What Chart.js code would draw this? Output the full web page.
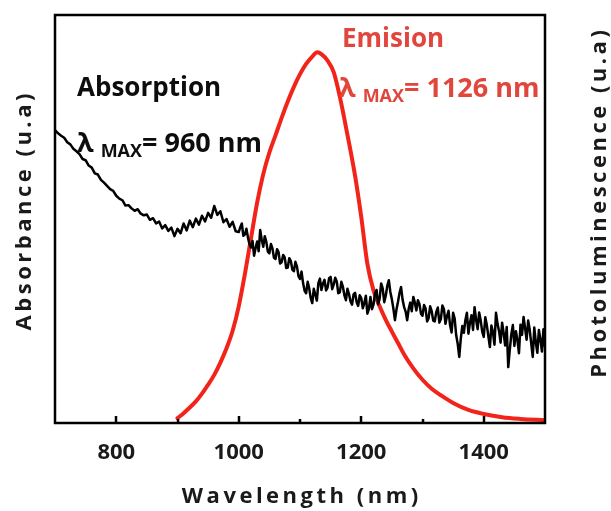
<!DOCTYPE html>
<html>
<head>
<meta charset="utf-8">
<script src="https://cdn.jsdelivr.net/npm/chart.js@4.4.1/dist/chart.umd.min.js"></script>
<style>
  html, body { margin: 0; padding: 0; background: #fff; }
  #wrap { width: 611px; height: 511px; }
</style>
</head>
<body>
<div id="wrap"><canvas id="c" width="611" height="511"></canvas></div>
<script>
// ---- Data ----
const xTicks = [800, 1000, 1200, 1400];
const xMinorTicks = [900, 1100, 1300];

// absorption, 700-995 nm (5 nm grid)
const absWavelengthA = [
  700,705,710,715,720,725,730,735,740,745,750,755,760,765,770,775,780,785,790,795,
  800,805,810,815,820,825,830,835,840,845,850,855,860,865,870,875,880,885,890,895,
  900,905,910,915,920,925,930,935,940,945,950,955,960,965,970,975,980,985,990,995
];
const absorbanceA = [
  71.8,71.0,70.4,69.9,68.8,68.3,67.2,66.6,65.9,64.7,64.4,63.1,62.6,61.2,60.9,59.6,58.9,58.1,57.3,56.9,
  55.7,55.0,54.6,53.3,53.4,52.6,52.0,52.4,51.3,50.9,51.1,49.8,50.2,48.9,49.4,47.7,48.5,47.1,47.9,45.8,
  47.6,46.5,48.9,47.2,49.6,48.0,50.1,48.6,50.8,49.4,51.5,50.3,53.2,51.0,51.9,49.2,50.0,48.1,49.3,47.0
];
// absorption, 1000-1500 nm (2.5 nm grid)
const absWavelengthB = [
  1000,1002.5,1005,1007.5,1010,1012.5,1015,1017.5,1020,1022.5,1025,1027.5,1030,1032.5,1035,1037.5,1040,1042.5,1045,1047.5,
  1050,1052.5,1055,1057.5,1060,1062.5,1065,1067.5,1070,1072.5,1075,1077.5,1080,1082.5,1085,1087.5,1090,1092.5,1095,1097.5,
  1100,1102.5,1105,1107.5,1110,1112.5,1115,1117.5,1120,1122.5,1125,1127.5,1130,1132.5,1135,1137.5,1140,1142.5,1145,1147.5,
  1150,1152.5,1155,1157.5,1160,1162.5,1165,1167.5,1170,1172.5,1175,1177.5,1180,1182.5,1185,1187.5,1190,1192.5,1195,1197.5,
  1200,1202.5,1205,1207.5,1210,1212.5,1215,1217.5,1220,1222.5,1225,1227.5,1230,1232.5,1235,1237.5,1240,1242.5,1245,1247.5,
  1250,1252.5,1255,1257.5,1260,1262.5,1265,1267.5,1270,1272.5,1275,1277.5,1280,1282.5,1285,1287.5,1290,1292.5,1295,1297.5,
  1300,1302.5,1305,1307.5,1310,1312.5,1315,1317.5,1320,1322.5,1325,1327.5,1330,1332.5,1335,1337.5,1340,1342.5,1345,1347.5,
  1350,1352.5,1355,1357.5,1360,1362.5,1365,1367.5,1370,1372.5,1375,1377.5,1380,1382.5,1385,1387.5,1390,1392.5,1395,1397.5,
  1400,1402.5,1405,1407.5,1410,1412.5,1415,1417.5,1420,1422.5,1425,1427.5,1430,1432.5,1435,1437.5,1440,1442.5,1445,1447.5,
  1450,1452.5,1455,1457.5,1460,1462.5,1465,1467.5,1470,1472.5,1475,1477.5,1480,1482.5,1485,1487.5,1490,1492.5,1495,1497.5,
  1500
];
const absorbanceB = [
  46.8,48.0,48.9,45.9,46.2,47.6,45.5,43.8,43.0,44.6,41.0,42.9,44.5,42.1,47.3,44.9,43.2,45.8,44.4,42.0,
  41.6,43.9,42.8,40.5,40.2,42.6,41.9,39.1,39.4,41.2,40.6,38.0,38.1,40.4,39.7,37.6,37.2,39.5,38.4,36.0,
  35.3,37.1,34.3,32.4,31.8,34.6,33.0,30.6,29.4,32.9,31.5,30.0,34.3,35.4,32.6,34.2,35.1,32.5,33.2,35.5,
  35.8,32.8,33.9,35.6,34.7,31.8,32.0,34.6,33.4,31.3,30.1,32.9,31.6,29.8,29.0,31.5,31.9,29.6,28.7,31.3,
  30.6,28.1,29.4,31.2,26.8,28.0,30.9,27.9,29.0,31.8,32.6,29.1,30.4,34.2,33.0,29.6,31.2,33.6,35.0,32.1,
  30.3,28.0,25.2,27.8,29.7,31.9,33.3,30.2,28.4,27.3,25.2,28.0,29.5,27.4,30.9,29.5,27.6,30.1,29.2,26.8,
  26.3,28.9,28.1,24.9,25.7,28.6,27.4,25.1,24.9,27.2,28.3,24.6,25.5,28.8,27.9,24.3,26.2,27.5,24.0,22.2,
  27.0,25.6,21.5,19.4,16.2,20.7,23.8,22.1,25.2,27.0,21.9,24.6,26.4,22.8,28.4,25.3,23.0,27.1,25.1,22.4,
  21.1,25.9,24.0,21.3,18.6,23.9,22.3,19.2,27.0,24.3,22.5,19.7,24.6,22.0,19.0,23.5,13.7,17.9,21.7,24.0,
  18.9,22.5,20.3,17.1,24.1,21.6,26.0,23.2,20.4,25.1,22.9,19.5,16.2,23.4,19.8,17.2,22.8,20.5,17.5,23.0,
  18.6
];

const emWavelength = [
  900,910,920,930,940,950,960,970,980,990,1000,1010,1020,1030,1040,1050,1060,1070,1080,1090,
  1100,1110,1120,1128,1135,1145,1155,1165,1177,1190,1200,1210,1220,1230,1240,1250,1260,1270,1285,1300,
  1315,1330,1350,1375,1400,1430,1460,1500
];
const emission = [
  1.2,2.4,3.8,5.3,7.2,9.4,11.8,14.8,18.3,22.6,28.6,36.5,45.3,54.0,61.0,66.3,70.5,74.8,78.8,82.4,
  85.5,88.0,89.8,90.9,90.4,88.8,86.0,80.0,71.0,60.5,50.5,39.0,32.5,28.6,25.3,22.4,19.6,16.8,13.4,10.6,
  8.4,6.8,4.9,3.2,2.2,1.4,1.0,0.7
];

const xTitle = 'Wavelength (nm)';
const yTitle = 'Absorbance (u.a)';
const y2Title = 'Photoluminescence (u.a)';

// ---- Chart ----
const FONT = '"Open Sans", "DejaVu Sans", sans-serif';
const TEXT_RED = '#e0463c';
const LINE_RED = '#f2241a';

const absWavelength = absWavelengthA.concat(absWavelengthB);
const absorbance = absorbanceA.concat(absorbanceB);

const decor = {
  id: 'decor',
  afterDraw(chart) {
    const ctx = chart.ctx;
    const a = chart.chartArea;
    const xs = chart.scales.x;
    ctx.save();
    // frame
    ctx.strokeStyle = '#000';
    ctx.lineWidth = 2.5;
    ctx.strokeRect(a.left, a.top, a.right - a.left, a.bottom - a.top);
    // inward ticks
    ctx.beginPath();
    xTicks.forEach(v => {
      const px = Math.round(xs.getPixelForValue(v));
      ctx.moveTo(px, a.bottom); ctx.lineTo(px, a.bottom - 7);
    });
    xMinorTicks.forEach(v => {
      const px = Math.round(xs.getPixelForValue(v));
      ctx.moveTo(px, a.bottom); ctx.lineTo(px, a.bottom - 4);
    });
    ctx.stroke();

    // axis titles with letter spacing
    ctx.fillStyle = '#1a1a1a';
    ctx.font = 'bold 22px ' + FONT;
    ctx.letterSpacing = '3.5px';
    ctx.textAlign = 'center';
    ctx.textBaseline = 'middle';
    ctx.fillText(xTitle, 300 + 1.75, 497);

    ctx.save();
    ctx.translate(25, 212);
    ctx.rotate(-Math.PI / 2);
    ctx.fillText(yTitle, 1.75, 0);
    ctx.restore();

    ctx.save();
    ctx.translate(600, 204);
    ctx.rotate(-Math.PI / 2);
    ctx.fillText(y2Title, 1.75, 0);
    ctx.restore();

    // annotations
    ctx.letterSpacing = '0px';
    ctx.textAlign = 'left';
    ctx.textBaseline = 'alphabetic';
    function lambdaLine(x, yBase, value, color) {
      ctx.fillStyle = color;
      ctx.font = 'bold 27px ' + FONT;
      ctx.fillText('\u03BB', x, yBase);
      let cx = x + ctx.measureText('\u03BB ').width;
      ctx.font = 'bold 18px ' + FONT;
      ctx.fillText('MAX', cx, yBase + 5);
      cx += ctx.measureText('MAX').width;
      ctx.font = 'bold 27px ' + FONT;
      ctx.fillText('= ' + value + ' nm', cx, yBase);
    }
    ctx.fillStyle = '#0d0d0d';
    ctx.font = 'bold 26px ' + FONT;
    ctx.fillText('Absorption', 77, 96);
    lambdaLine(77, 152, '960', '#0d0d0d');

    ctx.fillStyle = TEXT_RED;
    ctx.font = 'bold 26px ' + FONT;
    ctx.fillText('Emision', 342, 47);
    lambdaLine(339, 97, '1126', TEXT_RED);
    ctx.restore();
  }
};

new Chart(document.getElementById('c'), {
  type: 'line',
  data: {
    datasets: [
      {
        label: 'Absorption',
        data: absWavelength.map((w, i) => ({ x: w, y: absorbance[i] })),
        yAxisID: 'y',
        borderColor: '#000',
        borderWidth: 2.5,
        borderJoinStyle: 'round',
        pointRadius: 0,
        tension: 0
      },
      {
        label: 'Emision',
        data: emWavelength.map((w, i) => ({ x: w, y: emission[i] })),
        yAxisID: 'y2',
        borderColor: LINE_RED,
        borderWidth: 4,
        borderCapStyle: 'round',
        pointRadius: 0,
        cubicInterpolationMode: 'monotone'
      }
    ]
  },
  options: {
    responsive: false,
    animation: false,
    layout: { padding: { top: 15, left: 0, right: 0, bottom: 0 } },
    plugins: { legend: { display: false }, tooltip: { enabled: false } },
    scales: {
      x: {
        type: 'linear',
        min: 700,
        max: 1500,
        grid: { display: false },
        border: { display: false },
        afterBuildTicks: s => { s.ticks = xTicks.map(v => ({ value: v })); },
        afterFit: s => { s.height = 88; },
        ticks: {
          padding: 9,
          color: '#1a1a1a',
          font: { family: FONT, size: 22, weight: 'bold' },
          maxRotation: 0,
          callback: v => String(v)
        }
      },
      y: {
        position: 'left',
        min: 0,
        max: 100,
        grid: { display: false },
        border: { display: false },
        ticks: { display: false },
        afterFit: s => { s.width = 55; }
      },
      y2: {
        position: 'right',
        min: 0,
        max: 100,
        grid: { display: false },
        border: { display: false },
        ticks: { display: false },
        afterFit: s => { s.width = 66; }
      }
    }
  },
  plugins: [decor]
});
</script>
</body>
</html>
